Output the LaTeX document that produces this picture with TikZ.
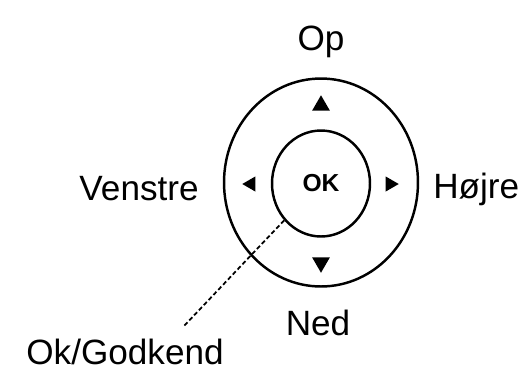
\documentclass[tikz,border=0pt]{standalone}
\usepackage{fontspec}
\setmainfont{Liberation Sans}
\usetikzlibrary{shapes.geometric}

\tikzset{
  lbl/.style={font=\fontsize{20}{24}\selectfont, inner sep=0pt},
  ring/.style={draw, ellipse, line width=1.4pt, inner sep=0pt},
  tri/.style={regular polygon, regular polygon sides=3, fill=black, inner sep=0pt},
}

\begin{document}
\begin{tikzpicture}[x=0.02cm, y=-0.02cm]
   \useasboundingbox (0,0) rectangle (528,370);
   % the two rings
   \node[ring, minimum width=3.88cm, minimum height=4.16cm] (outer) at (321,182.5) {};
   \node[ring, minimum width=1.96cm, minimum height=2.12cm,
         font=\bfseries\fontsize{14}{16}\selectfont] (okbtn) at (321,183.5) {OK};
   % arrow marks
   \node[tri, minimum size=0.41cm] (up) at (321,105.5) {};
   \node[tri, minimum size=0.41cm, rotate=180] (down) at (321,262.5) {};
   \node[tri, minimum size=0.35cm, rotate=90] (left) at (251,184) {};
   \node[tri, minimum size=0.35cm, rotate=-90] (right) at (390,184) {};
   % labels
   \node[lbl, anchor=base] (op) at (321,50) {Op};
   \node[lbl, anchor=base east] (venstre) at (199,200) {Venstre};
   \node[lbl, anchor=base west] (hojre) at (433,198) {Højre};
   \node[lbl, anchor=base] (ned) at (318,335) {Ned};
   \node[lbl, anchor=base] (okgod) at (125,364) {Ok/Godkend};
   \coordinate (tail) at (183,327);
   \draw[line width=1pt, dash pattern=on 2.5pt off 1.5pt] (okbtn.225) -- (tail);
\end{tikzpicture}
\end{document}
